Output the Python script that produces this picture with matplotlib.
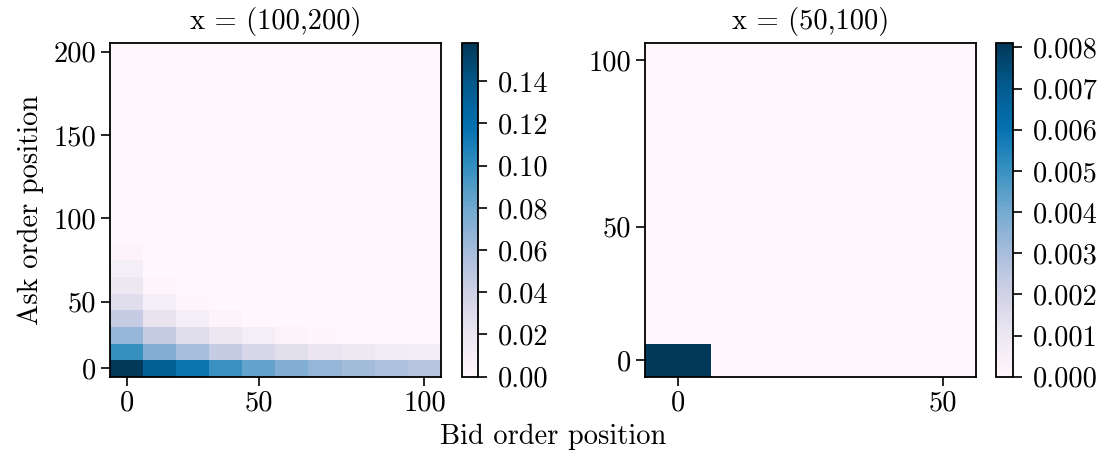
import numpy as np
import matplotlib
matplotlib.use("Agg")
import matplotlib.pyplot as plt

plt.rcParams['font.family'] = 'serif'
plt.rcParams['font.serif'] = ['cmr10']
plt.rcParams['mathtext.fontset'] = 'cm'
plt.rcParams['axes.formatter.use_mathtext'] = True
plt.rcParams['font.size'] = 20.5
plt.rcParams['axes.titlesize'] = 'medium'

# left panel: x = (100,200), rows = ask position bins (bottom up), cols = bid bins
left_title = "x = (100,200)"
left_rows = [
    [0.158, 0.133, 0.115, 0.098, 0.084, 0.074, 0.066, 0.060, 0.055, 0.050],
    [0.099, 0.074, 0.059, 0.044, 0.033, 0.027, 0.021, 0.018, 0.014, 0.012],
    [0.066, 0.044, 0.028, 0.019, 0.011, 0.004, 0.001, 0.0, 0.0, 0.0],
    [0.044, 0.022, 0.011, 0.003, 0.0, 0.0, 0.0, 0.0, 0.0, 0.0],
    [0.028, 0.011, 0.001, 0.0, 0.0, 0.0, 0.0, 0.0, 0.0, 0.0],
    [0.019, 0.002, 0.0, 0.0, 0.0, 0.0, 0.0, 0.0, 0.0, 0.0],
    [0.011, 0.0, 0.0, 0.0, 0.0, 0.0, 0.0, 0.0, 0.0, 0.0],
    [0.004, 0.0, 0.0, 0.0, 0.0, 0.0, 0.0, 0.0, 0.0, 0.0],
]
left_nrows = 20
left_xlabels = [0, 50, 100]
left_ylabels = [0, 50, 100, 150, 200]

# right panel: x = (50,100)
right_title = "x = (50,100)"
right_rows = [
    [0.0081, 0.0, 0.0, 0.0, 0.0],
]
right_nrows = 10
right_xlabels = [0, 50]
right_ylabels = [0, 50, 100]


def build(rows, nrows):
    m = np.zeros((nrows, len(rows[0])))
    m[:len(rows)] = np.array(rows)
    return m


W, H = 1106, 457
fig = plt.figure(figsize=(W / 100, H / 100), dpi=100)


def px(x0, y0, x1, y1):
    return [x0 / W, 1 - y1 / H, (x1 - x0) / W, (y1 - y0) / H]


def panel(ax, cax, data, title, xlabels, ylabels, cticks, cfmt):
    nr, nc = data.shape
    im = ax.imshow(data, cmap='PuBu', origin='lower', aspect='auto',
                   interpolation='nearest')
    ax.set_xticks(np.linspace(0, nc - 1, len(xlabels)).astype(int))
    ax.set_xticklabels([str(v) for v in xlabels])
    ax.set_yticks(np.linspace(0, nr - 1, len(ylabels)).astype(int))
    ax.set_yticklabels([str(v) for v in ylabels])
    ax.set_title(title, pad=10.5)
    ax.tick_params(length=6.5, width=1.2)
    for s in ax.spines.values():
        s.set_linewidth(1.3)
    cb = fig.colorbar(im, cax=cax, ticks=cticks)
    cb.ax.set_yticklabels([cfmt % t for t in cticks])
    cb.ax.tick_params(length=6.5, width=1.2, pad=8)
    cb.outline.set_linewidth(1.3)
    return im


ax1 = fig.add_axes(px(110, 43.3, 441, 376.7))
cax1 = fig.add_axes(px(461.5, 43.3, 477.5, 376.7))
ax2 = fig.add_axes(px(645, 43.3, 975.7, 376.7))
cax2 = fig.add_axes(px(996, 43.3, 1013, 376.7))

panel(ax1, cax1, build(left_rows, left_nrows), left_title, left_xlabels,
      left_ylabels, np.arange(0, 0.15, 0.02), "%.2f")
panel(ax2, cax2, build(right_rows, right_nrows), right_title, right_xlabels,
      right_ylabels, np.arange(0, 0.0085, 0.001), "%.3f")

ax1.set_ylabel("Ask order position", labelpad=7)
fig.text(553 / W, 1 - 437 / H, "Bid order position", ha='center', va='center')

fig.savefig("out.png", dpi=100)
